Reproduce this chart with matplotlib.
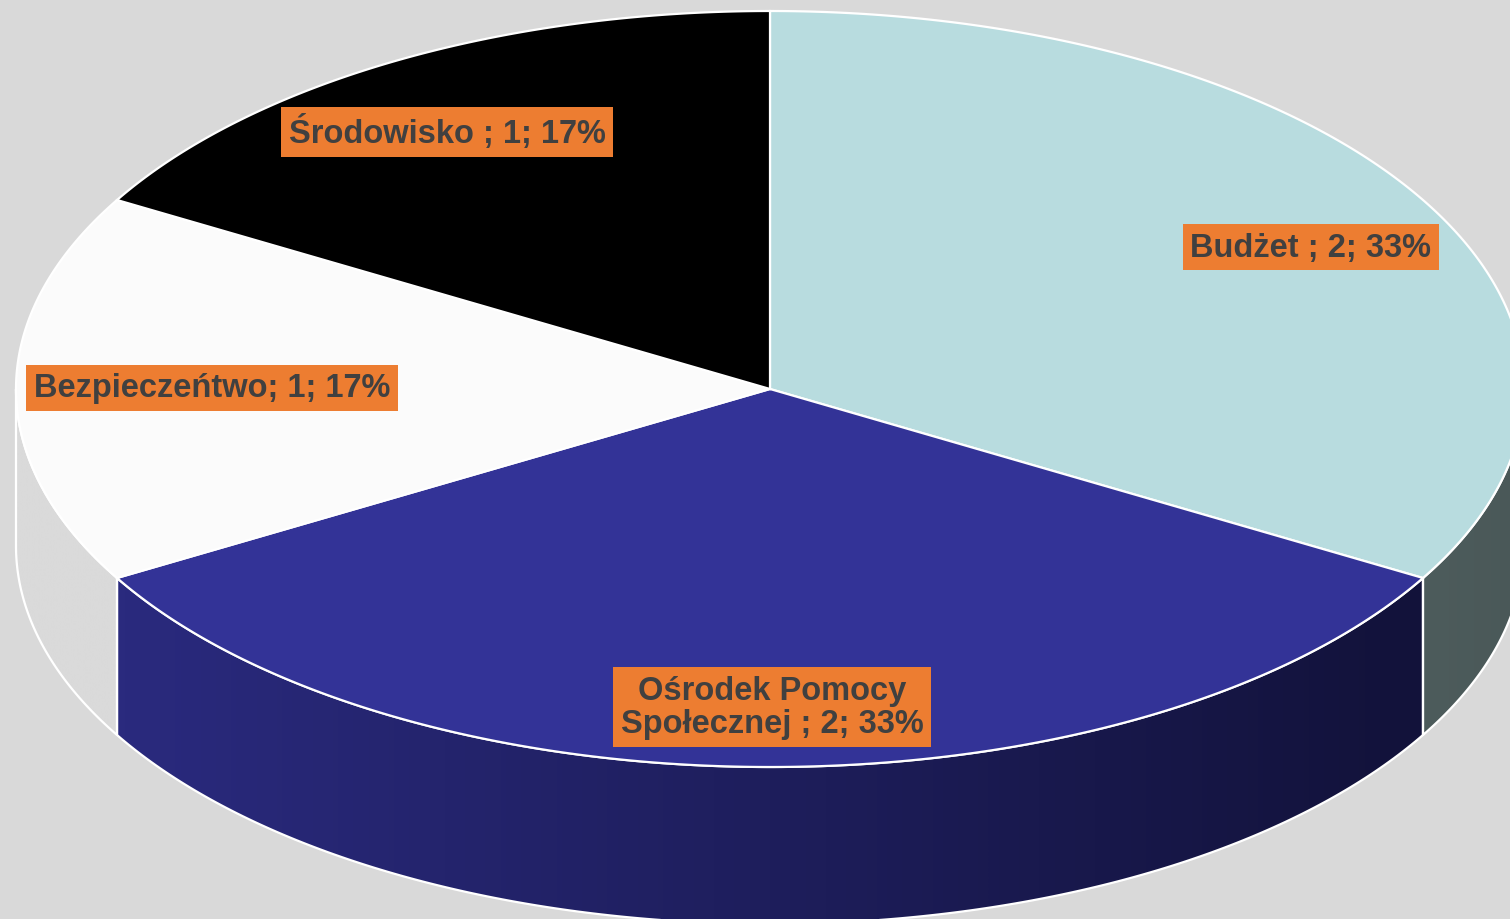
import numpy as np
import matplotlib
matplotlib.use("Agg")
import matplotlib.pyplot as plt
from matplotlib.patches import Polygon
from matplotlib.colors import LinearSegmentedColormap

# ---- data ----
categories = ["Budżet ", "Ośrodek Pomocy\nSpołecznej ", "Bezpieczeńtwo", "Środowisko "]
values = [2, 2, 1, 1]
top_colors = ["#b8dcdf", "#333397", "#fbfbfb", "#000000"]
side_colors = [("#4d5c5c", "#4a5858"), ("#2a2a7e", "#12123a"), ("#dadada", "#dadada"), ("#000000", "#000000")]

# ---- layout ----
W, H = 1510, 920
cx, cy, rx, ry, depth = 770, 390, 754, 378, 157
label_pos = [(1311, 248), (772, 708), (212, 389), (447, 133)]
bg = "#d9d9d9"

fig = plt.figure(figsize=(W / 100, H / 100), dpi=100)
fig.patch.set_facecolor(bg)
ax = fig.add_axes([0, 0, 1, 1])
ax.set_xlim(0, W)
ax.set_ylim(H, 0)
ax.axis("off")

def pts(t0, t1, dz=0, n=200):
    t = np.radians(np.linspace(t0, t1, n))
    return np.column_stack([cx + rx * np.cos(t), cy - ry * np.sin(t) + dz])

total = sum(values)
bounds = []
start = 90.0
for v in values:
    end = start - 360.0 * v / total
    bounds.append((start, end))
    start = end

# side walls
for (s, e), (cl, cr) in zip(bounds, side_colors):
    lo, hi = e, s
    for k in (-1, 0, 1):
        a, b = max(lo, -180 + 360 * k), min(hi, 360 * k)
        if a >= b:
            continue
        top = pts(b, a)
        bot = pts(a, b, depth)
        poly = np.vstack([top, bot])
        patch = Polygon(poly, closed=True, facecolor="none", edgecolor="white", lw=1.6, zorder=3)
        ax.add_patch(patch)
        fill = Polygon(poly, closed=True, facecolor="none", edgecolor="none", zorder=2)
        ax.add_patch(fill)
        x0, x1 = poly[:, 0].min(), poly[:, 0].max()
        y0, y1 = poly[:, 1].min(), poly[:, 1].max()
        cmap = LinearSegmentedColormap.from_list("g", [cl, cr])
        grad = np.linspace(0, 1, 256).reshape(1, -1)
        im = ax.imshow(grad, cmap=cmap, extent=(x0, x1, y1, y0), aspect="auto", zorder=2,
                       interpolation="bilinear")
        im.set_clip_path(fill)

ax.set_xlim(0, W)
ax.set_ylim(H, 0)

# top slices
for (s, e), c in zip(bounds, top_colors):
    arc = pts(s, e)
    poly = np.vstack([[cx, cy], arc])
    ax.add_patch(Polygon(poly, closed=True, facecolor=c, edgecolor="white", lw=1.6, zorder=4,
                         joinstyle="miter"))

# labels
for cat, v, (lx, ly) in zip(categories, values, label_pos):
    pct = round(100 * v / total)
    ax.text(lx, ly, f"{cat}; {v}; {pct}%", ha="center", va="center", fontsize=23.5,
            fontweight="bold", family=["Liberation Sans", "DejaVu Sans"], color="#404040",
            linespacing=1.12, zorder=6,
            bbox=dict(boxstyle="square,pad=0.24", facecolor="#ed7d31", edgecolor="none"))

fig.savefig("out.png", dpi=100, facecolor=bg)
